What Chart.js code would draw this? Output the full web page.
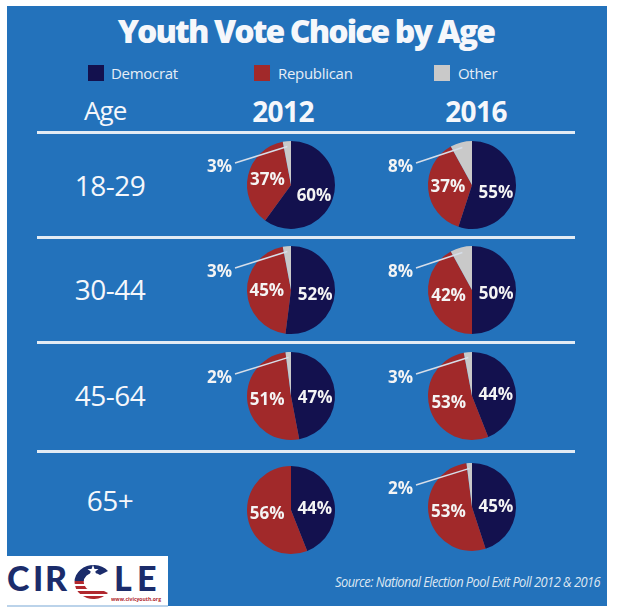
<!DOCTYPE html>
<html>
<head>
<meta charset="utf-8">
<script src="https://cdn.jsdelivr.net/npm/chart.js@4/dist/chart.umd.min.js"></script>
<style>
  html, body { margin: 0; padding: 0; background: #ffffff; }
  body { width: 617px; height: 613px; position: relative; overflow: hidden; font-family: "Open Sans", "Liberation Sans", sans-serif; }
  .panel { position: absolute; left: 7px; top: 6px; width: 600px; height: 600px; background: #2372BB; }
  .abs { position: absolute; white-space: nowrap; color: #F5F7FB; }
  .title { left: 0; width: 612px; top: 11px; text-align: center; font-weight: 800; font-size: 32px; letter-spacing: -1.9px; line-height: 40px; }
  .leg-sq { position: absolute; width: 16px; height: 16px; top: 65px; }
  .leg-tx { font-size: 15px; top: 62px; line-height: 22px; color: #E6EDF6; letter-spacing: -0.3px; }
  .hdr { font-size: 26px; line-height: 30px; top: 95px; }
  .year { font-weight: 700; font-size: 28px; letter-spacing: -0.6px; top: 96px; }
  .rule { position: absolute; left: 37px; width: 538px; height: 3px; background: #E2EBF4; }
  .age { font-size: 28px; line-height: 34px; width: 120px; left: 50px; text-align: center; letter-spacing: -0.5px; }
  canvas.pie { position: absolute; }
  .source { right: 17px; top: 572px; font-style: italic; font-size: 14px; color: #DCE6F2; letter-spacing: -0.6px; transform-origin: right center; transform: scaleX(0.92); }
  .logo { position: absolute; left: 7px; top: 556px; width: 161px; height: 49px; background: #ffffff; border-bottom: 2px solid #BBD3EA; overflow: hidden; }
  .lg { position: absolute; top: 3px; font-family: Lato, "Open Sans", sans-serif; font-weight: 900; font-size: 34px; line-height: 38px; color: #1B2C6B; }
  .url { position: absolute; left: 104px; top: 38px; font-size: 7px; color: #B0282E; font-weight: 700; font-family: "Open Sans", sans-serif; transform-origin: left center; transform: scale(0.72, 0.85); }
</style>
</head>
<body>
<div class="panel"></div>

<div class="abs title">Youth Vote Choice by Age</div>

<div class="leg-sq" style="left:88px;background:#13114E;"></div>
<div class="abs leg-tx" style="left:111px;">Democrat</div>
<div class="leg-sq" style="left:254px;background:#A1292A;"></div>
<div class="abs leg-tx" style="left:278px;">Republican</div>
<div class="leg-sq" style="left:434px;background:#C9C9C9;"></div>
<div class="abs leg-tx" style="left:458px;">Other</div>

<div class="abs hdr" style="left:84px;letter-spacing:-0.9px;">Age</div>
<div class="abs hdr year" id="y0" style="left:223px;width:120px;text-align:center;"></div>
<div class="abs hdr year" id="y1" style="left:416px;width:120px;text-align:center;"></div>

<div class="rule" style="top:131px;"></div>
<div class="rule" style="top:236px;"></div>
<div class="rule" style="top:341px;"></div>
<div class="rule" style="top:450px;"></div>

<div id="ages"></div>
<div id="pies"></div>

<div class="abs source">Source: National Election Pool Exit Poll 2012 &amp; 2016</div>

<div class="logo">
  <div class="lg" style="left:0px;">C</div>
  <div class="lg" style="left:26px;">I</div>
  <div class="lg" style="left:38px;">R</div>
  <svg style="position:absolute;left:60px;top:6px;" width="46" height="40" viewBox="0 0 46 40">
    <defs>
      <clipPath id="ring">
        <path d="M41 9 A19 17 0 1 0 41 31 L33 27 A10 9 0 1 1 33 13 Z"/>
      </clipPath>
    </defs>
    <g clip-path="url(#ring)">
      <rect x="0" y="0" width="46" height="19" fill="#1B2C6B"/>
      <rect x="0" y="19" width="46" height="3" fill="#B0282E"/>
      <rect x="0" y="24" width="46" height="3" fill="#B0282E"/>
      <rect x="0" y="29" width="46" height="3" fill="#B0282E"/>
      <rect x="0" y="34" width="46" height="3" fill="#B0282E"/>
    </g>
    <polygon points="26,3 27.5,7 31.5,7 28.3,9.5 29.5,13.5 26,11 22.5,13.5 23.7,9.5 20.5,7 24.5,7" fill="#ffffff"/>
  </svg>
  <div class="lg" style="left:107px;">L</div>
  <div class="lg" style="left:130px;">E</div>
  <div class="url">www.civicyouth.org</div>
</div>

<script>
// ---------- data ----------
const ageGroups = ['18-29', '30-44', '45-64', '65+'];
const years = ['2012', '2016'];
const parties = ['Democrat', 'Republican', 'Other'];
const dem2012 = [60, 52, 47, 44];
const rep2012 = [37, 45, 51, 56];
const oth2012 = [3, 3, 2, 0];
const dem2016 = [55, 50, 44, 45];
const rep2016 = [37, 42, 53, 53];
const oth2016 = [8, 8, 3, 2];

// ---------- styles / layout ----------
const partyColors = ['#13114E', '#A1292A', '#C9C9C9'];
const colX = [291, 472];
const rowY = [[185, 185], [290, 290], [396, 396], [510, 507]];
const ageY = [185, 289, 395, 500];

document.getElementById('y0').textContent = years[0];
document.getElementById('y1').textContent = years[1];

const agesDiv = document.getElementById('ages');
ageGroups.forEach((a, i) => {
  const d = document.createElement('div');
  d.className = 'abs age';
  d.style.top = (ageY[i] - 17) + 'px';
  d.textContent = a;
  agesDiv.appendChild(d);
});

const pieLabels = {
  id: 'pieLabels',
  afterDatasetsDraw(chart) {
    const ctx = chart.ctx;
    const meta = chart.getDatasetMeta(0);
    const data = chart.data.datasets[0].data;
    ctx.save();
    ctx.font = '700 17px "Open Sans", sans-serif';
    ctx.fillStyle = '#F4F4F4';
    meta.data.forEach((arc, i) => {
      const v = data[i];
      if (!v) return;
      const p = arc.getProps(['x', 'y', 'startAngle', 'endAngle', 'outerRadius'], true);
      const mid = (p.startAngle + p.endAngle) / 2;
      if (i < 2) {
        const rr = p.outerRadius * 0.55;
        const lx = p.x + Math.cos(mid) * rr;
        const ly = p.y + Math.sin(mid) * rr + (i === 0 ? 4 : 0);
        ctx.textAlign = 'center';
        ctx.textBaseline = 'middle';
        ctx.fillText(v + '%', lx, ly);
      } else {
        const rr = p.outerRadius * 0.88;
        const ax = p.x + Math.cos(mid) * rr;
        const ay = p.y + Math.sin(mid) * rr;
        const bx = p.x - 56;
        const by = p.y - 22;
        ctx.strokeStyle = '#D6DEE9';
        ctx.lineWidth = 1.5;
        ctx.beginPath();
        ctx.moveTo(ax, ay);
        ctx.lineTo(bx, by);
        ctx.stroke();
        ctx.textAlign = 'right';
        ctx.textBaseline = 'middle';
        ctx.fillText(v + '%', bx - 3, by + 4);
      }
    });
    ctx.restore();
  }
};

const piesDiv = document.getElementById('pies');
const series = [
  [dem2012, rep2012, oth2012],
  [dem2016, rep2016, oth2016]
];
ageGroups.forEach((age, r) => {
  years.forEach((yr, c) => {
    const cx = colX[c], cy = rowY[r][c];
    const cv = document.createElement('canvas');
    cv.className = 'pie';
    cv.width = 150; cv.height = 100;
    cv.style.left = (cx - 100) + 'px';
    cv.style.top = (cy - 50) + 'px';
    cv.style.width = '150px'; cv.style.height = '100px';
    piesDiv.appendChild(cv);
    const s = series[c];
    new Chart(cv, {
      type: 'pie',
      data: {
        labels: parties,
        datasets: [{
          data: [s[0][r], s[1][r], s[2][r]],
          backgroundColor: partyColors,
          borderWidth: 0
        }]
      },
      options: {
        responsive: false,
        animation: false,
        layout: { padding: { left: 56, right: 6, top: 6, bottom: 6 } },
        plugins: { legend: { display: false }, tooltip: { enabled: false }, title: { display: false } }
      },
      plugins: [pieLabels]
    });
  });
});
</script>
</body>
</html>
